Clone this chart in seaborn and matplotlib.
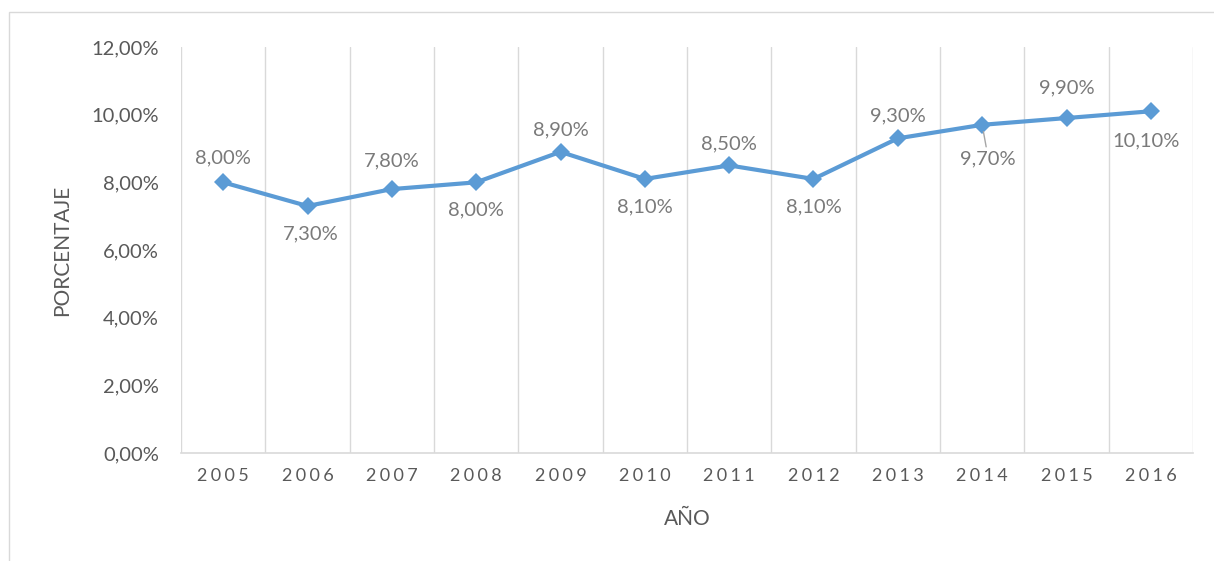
import matplotlib
matplotlib.use("Agg")
import matplotlib.pyplot as plt
import seaborn as sns
import pandas as pd
from matplotlib.patches import Rectangle

years = ["2005", "2006", "2007", "2008", "2009", "2010",
         "2011", "2012", "2013", "2014", "2015", "2016"]
porcentaje = [8.0, 7.3, 7.8, 8.0, 8.9, 8.1, 8.5, 8.1, 9.3, 9.7, 9.9, 10.1]
# label placement per point: offset in pixels (dx, dy)
label_offsets = [(0, 24), (3, -28), (0, 28), (0, -28), (0, 22), (0, -28),
                 (0, 22), (0, -28), (0, 22), (6, -34), (0, 30), (-5, -30)]

sns.set_theme(style="white")
plt.rcParams["font.family"] = ["Lato", "DejaVu Sans"]

df = pd.DataFrame({"pos": range(len(years)), "val": porcentaje})

fig = plt.figure(figsize=(12.14, 5.61), dpi=100)
ax = fig.add_axes([181 / 1214, 1 - 453 / 561, (1193 - 181) / 1214, (453 - 47) / 561])

text_col = "#595959"
grid_col = "#d9d9d9"
blue = "#5b9bd5"

sns.lineplot(data=df, x="pos", y="val", ax=ax, color=blue, linewidth=3,
             marker="D", markersize=9.5, markeredgewidth=0)

ax.set_xlim(-0.5, len(years) - 0.5)
ax.set_ylim(0, 12)
ax.set_yticks([0, 2, 4, 6, 8, 10, 12])
ax.set_yticklabels([f"{v:.2f}".replace(".", ",") + "%" for v in [0, 2, 4, 6, 8, 10, 12]],
                   fontsize=14.5, color=text_col)
ax.set_xticks(range(len(years)))
ax.set_xticklabels(["\u2009\u200a".join(y) for y in years], fontsize=13, color=text_col)
ax.tick_params(axis="both", length=0)
ax.tick_params(axis="x", pad=11)
ax.tick_params(axis="y", pad=16)

# vertical gridlines at category boundaries
for b in range(len(years) + 1):
    ax.axvline(b - 0.5, color=grid_col, linewidth=1, zorder=0)

for s in ["top", "right", "left"]:
    ax.spines[s].set_visible(False)
ax.spines["bottom"].set_color(grid_col)
ax.spines["bottom"].set_linewidth(1.2)

ax.set_xlabel("AÑO", fontsize=15, color=text_col, labelpad=18)
ax.set_ylabel("PORCENTAJE", fontsize=15, color=text_col, labelpad=14)

for i, (v, off) in enumerate(zip(porcentaje, label_offsets)):
    txt = f"{v:.2f}".replace(".", ",") + "%"
    ax.annotate(txt, (i, v), xytext=off, textcoords="offset pixels",
                ha="center", va="center", fontsize=14.5, color="#7a7a7a")

# leader line for 2014 label
ax.annotate("", (9, 9.7), xytext=(4, -22), textcoords="offset pixels",
            arrowprops=dict(arrowstyle="-", color="#a6a6a6", lw=1,
                            shrinkA=0, shrinkB=5))

# chart border
fig.patches.append(Rectangle((9 / 1214, -0.1), 1.2, 1 - 12 / 561 + 0.1,
                             transform=fig.transFigure, fill=False,
                             edgecolor="#d9d9d9", linewidth=1))

fig.savefig("out.png", dpi=100)
